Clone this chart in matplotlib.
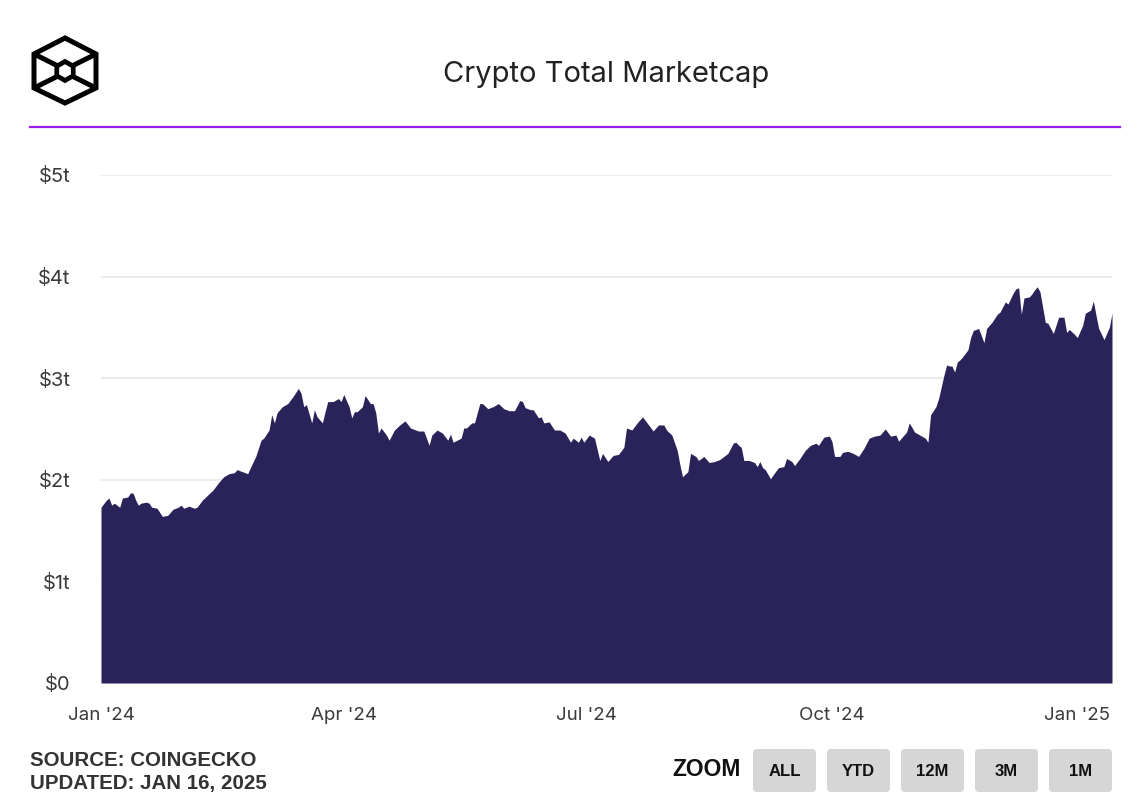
"""Crypto Total Marketcap — area chart recreation (CoinGecko, updated Jan 16 2025)."""

import matplotlib
matplotlib.use("Agg")
import matplotlib.pyplot as plt
import numpy as np
import pandas as pd
from matplotlib.patches import FancyBboxPatch, Polygon, RegularPolygon

# Palette
FILL = "#2a2359"
PURPLE = "#9a1fe6"
GRID = "#e6e6e6"
INK = "#222222"
TICK = "#3a3a3a"
BTN = "#d6d6d6"

# Data: days since 2024-01-01 and total market cap (trillions USD)
day_offsets = [
    0, 2, 3, 4, 5, 7, 8, 10, 11, 12, 13, 14, 15, 17, 18, 19, 21, 23, 25, 27,
    29, 30, 31, 33, 35, 36, 38, 40, 42, 44, 46, 48, 50, 51, 53, 55, 56, 58, 60, 61,
    63, 64, 65, 66, 68, 70, 72, 74, 75, 76, 77, 79, 80, 81, 83, 84, 85, 87, 89, 90,
    91, 93, 94, 95, 96, 98, 99, 101, 102, 103, 104, 105, 107, 108, 110, 112, 114, 116, 119, 121,
    123, 124, 126, 128, 130, 131, 132, 135, 136, 137, 139, 140, 142, 143, 145, 147, 149, 151, 153, 155,
    157, 158, 159, 161, 162, 164, 165, 166, 168, 170, 172, 174, 176, 177, 179, 180, 181, 183, 185, 187,
    188, 190, 192, 194, 196, 197, 199, 201, 203, 205, 207, 209, 211, 212, 214, 216, 217, 218, 220, 221,
    223, 224, 226, 228, 230, 232, 233, 235, 237, 238, 239, 240, 241, 243, 245, 246, 247, 248, 249, 251,
    252, 254, 256, 257, 259, 260, 262, 264, 266, 268, 269, 271, 273, 274, 275, 277, 278, 280, 282, 284,
    286, 288, 290, 292, 294, 296, 298, 299, 302, 303, 305, 307, 309, 310, 311, 313, 314, 316, 317, 318,
    319, 320, 321, 322, 323, 325, 326, 327, 329, 331, 332, 334, 336, 337, 339, 340, 342, 343, 344, 345,
    346, 348, 349, 350, 351, 352, 354, 355, 357, 359, 361, 362, 363, 365, 366, 368, 369, 371, 372, 373,
    374, 376, 377, 378, 379,
]
market_cap = [
    1.73, 1.80, 1.82, 1.75, 1.77, 1.73, 1.82, 1.83, 1.87, 1.87, 1.80, 1.75, 1.77, 1.78, 1.77, 1.73, 1.72, 1.64, 1.65, 1.71,
    1.73, 1.75, 1.72, 1.74, 1.72, 1.73, 1.80, 1.85, 1.90, 1.97, 2.03, 2.06, 2.07, 2.10, 2.08, 2.06, 2.12, 2.23, 2.39, 2.41,
    2.49, 2.64, 2.56, 2.66, 2.72, 2.75, 2.82, 2.90, 2.85, 2.72, 2.74, 2.56, 2.69, 2.62, 2.56, 2.67, 2.77, 2.77, 2.80, 2.77,
    2.84, 2.72, 2.61, 2.67, 2.67, 2.72, 2.83, 2.75, 2.75, 2.66, 2.46, 2.51, 2.44, 2.39, 2.49, 2.54, 2.58, 2.51, 2.48, 2.48,
    2.34, 2.44, 2.49, 2.46, 2.39, 2.45, 2.37, 2.41, 2.51, 2.51, 2.56, 2.56, 2.75, 2.75, 2.70, 2.72, 2.75, 2.70, 2.68, 2.68,
    2.78, 2.77, 2.71, 2.69, 2.69, 2.61, 2.62, 2.56, 2.57, 2.49, 2.49, 2.46, 2.37, 2.41, 2.37, 2.42, 2.37, 2.44, 2.41, 2.19,
    2.26, 2.18, 2.24, 2.25, 2.32, 2.51, 2.49, 2.56, 2.62, 2.55, 2.48, 2.54, 2.54, 2.49, 2.44, 2.29, 2.15, 2.03, 2.08, 2.26,
    2.23, 2.19, 2.23, 2.17, 2.18, 2.20, 2.22, 2.26, 2.36, 2.37, 2.34, 2.32, 2.19, 2.19, 2.17, 2.13, 2.18, 2.12, 2.10, 2.01,
    2.05, 2.12, 2.13, 2.21, 2.18, 2.14, 2.21, 2.29, 2.34, 2.36, 2.34, 2.42, 2.43, 2.38, 2.23, 2.23, 2.27, 2.28, 2.26, 2.23,
    2.31, 2.41, 2.43, 2.44, 2.50, 2.43, 2.44, 2.38, 2.47, 2.56, 2.47, 2.44, 2.41, 2.37, 2.64, 2.72, 2.80, 3.03, 3.13, 3.12,
    3.12, 3.06, 3.16, 3.18, 3.21, 3.28, 3.40, 3.47, 3.49, 3.35, 3.49, 3.55, 3.63, 3.65, 3.75, 3.73, 3.84, 3.88, 3.89, 3.63,
    3.79, 3.80, 3.83, 3.87, 3.90, 3.85, 3.55, 3.54, 3.44, 3.60, 3.60, 3.45, 3.48, 3.43, 3.40, 3.52, 3.64, 3.67, 3.76, 3.62,
    3.49, 3.38, 3.44, 3.50, 3.64,
]

y_ticks = [0, 1, 2, 3, 4, 5]
y_labels = ["$0", "$1t", "$2t", "$3t", "$4t", "$5t"]
x_ticks = ["2024-01-01", "2024-04-01", "2024-07-01", "2024-10-01", "2025-01-01"]
x_labels = ["Jan '24", "Apr '24", "Jul '24", "Oct '24", "Jan '25"]
zoom_buttons = ["ALL", "YTD", "12M", "3M", "1M"]

dates = pd.Timestamp("2024-01-01") + pd.to_timedelta(day_offsets, unit="D")
values = np.array(market_cap)

W, H = 1142, 806
fig = plt.figure(figsize=(W / 100, H / 100), dpi=100, facecolor="white")

# Main plot area
ax = fig.add_axes([101 / W, 1 - 683 / H, (1112 - 101) / W, (683 - 175) / H])
ax.fill_between(dates, 0, values, color=FILL, linewidth=0, zorder=2)
ax.set_xlim(dates[0], dates[-1])
ax.set_ylim(0, 5)
ax.set_yticks(y_ticks, y_labels)
ax.set_xticks(pd.to_datetime(x_ticks), x_labels)
ax.grid(axis="y", color=GRID, linewidth=1.2, zorder=0)
ax.set_axisbelow(True)
for side in ("top", "right", "left", "bottom"):
    ax.spines[side].set_visible(False)
ax.tick_params(axis="y", length=0, pad=22, labelsize=14.5, labelcolor=TICK)
ax.tick_params(axis="x", length=0, pad=17, labelsize=13.5, labelcolor=TICK)
for lab in ax.get_xticklabels() + ax.get_yticklabels():
    lab.set_fontfamily(["Inter", "DejaVu Sans"])

# Overlay in pixel coordinates for header / footer furniture
ov = fig.add_axes([0, 0, 1, 1], zorder=-1)
ov.set_xlim(0, W)
ov.set_ylim(H, 0)
ov.axis("off")

# Logo: hexagonal cube outline with inner hexagon
cx, cy = 65, 71
outer = [(65, 38), (96, 54), (96, 88), (65, 103), (34, 88), (34, 54)]
ov.add_patch(Polygon(outer, closed=True, fill=False, edgecolor="black", linewidth=3.6, joinstyle="miter"))
ov.add_patch(RegularPolygon((cx, cy), numVertices=6, radius=9.5, orientation=0,
                            fill=False, edgecolor="black", linewidth=3.4))
for (px, py), (qx, qy) in [((34, 54), (cx - 7, cy - 5)), ((96, 54), (cx + 7, cy - 5)),
                           ((34, 88), (cx - 7, cy + 5)), ((96, 88), (cx + 7, cy + 5))]:
    ov.plot([px, qx], [py, qy], color="black", linewidth=3.6, solid_capstyle="butt")

# Title and purple rule
fig.text(606 / W, 1 - 74 / H, "Crypto Total Marketcap", ha="center", va="center",
         fontsize=21, color=INK, family=["Inter", "DejaVu Sans"])
ov.plot([30, 1120], [127, 127], color=PURPLE, linewidth=1.6)

# Footer: source note
fig.text(30 / W, 1 - 761 / H, "SOURCE: COINGECKO", ha="left", va="center",
         fontsize=14.8, fontweight="bold", color="#333333", family="Liberation Sans")
fig.text(30 / W, 1 - 783 / H, "UPDATED: JAN 16, 2025", ha="left", va="center",
         fontsize=14.8, fontweight="bold", color="#333333", family="Liberation Sans")

# Footer: zoom buttons
fig.text(741 / W, 1 - 770 / H, "ZOOM", ha="right", va="center",
         fontsize=16.5, fontweight="bold", color="#111111", family="Liberation Sans")
for i, name in enumerate(zoom_buttons):
    x0 = 753 + i * 74
    ov.add_patch(FancyBboxPatch((x0, 749), 63, 43, boxstyle="round,pad=0,rounding_size=4",
                                facecolor=BTN, edgecolor="none"))
    ov.text(x0 + 31.5, 772, name, ha="center", va="center", fontsize=12,
            fontweight="bold", color="#111111", family="Liberation Sans")

fig.savefig("out.png", dpi=100, facecolor="white")
